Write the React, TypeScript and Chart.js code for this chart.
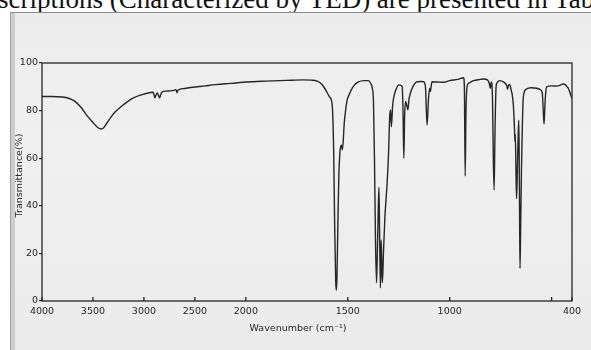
import React, { useEffect, useRef } from "react";
import { Chart, registerables } from "chart.js";

Chart.register(...registerables);

// ---- data (wavenumber in cm-1, transmittance in %) ----
const WAVENUMBERS = [
  4000, 3900, 3800, 3740, 3680, 3620, 3560, 3500, 3450, 3420, 3395, 3360, 3320, 3281, 3220, 3160, 3103, 3040, 2980, 2936,
  2910, 2900, 2893, 2882, 2870, 2858, 2846, 2835, 2820, 2780, 2740, 2700, 2685, 2676, 2668, 2650, 2600, 2500, 2400, 2300,
  2200, 2100, 2000, 1900, 1800, 1720, 1680, 1650, 1630, 1615, 1600, 1590, 1580, 1574, 1569, 1564, 1559, 1556, 1553, 1549,
  1544, 1539, 1535, 1531, 1527, 1523, 1517, 1510, 1503, 1494, 1484, 1470, 1450, 1420, 1398, 1388, 1380, 1374, 1369, 1364,
  1359, 1355, 1350, 1347, 1344, 1340, 1338, 1336, 1333, 1330, 1325, 1318, 1312, 1307, 1300, 1294, 1290, 1286, 1280, 1274,
  1262, 1250, 1240, 1233, 1229, 1225, 1221, 1216, 1210, 1205, 1200, 1193, 1180, 1160, 1140, 1128, 1119, 1111, 1104, 1098,
  1095, 1087, 1060, 1030, 1000, 960, 932, 928, 924, 920, 914, 907, 883, 850, 834, 815, 806, 801, 796, 790,
  786, 782, 778, 773, 769, 752, 735, 728, 720, 716, 712, 706, 698, 692, 688, 685, 682, 680, 678, 675,
  672, 668, 664, 661, 659, 657, 655, 652, 648, 644, 640, 635, 625, 600, 573, 555, 546, 541, 537, 533,
  528, 524, 500, 475, 455, 442, 432, 424, 418, 410, 404, 400,
];
const TRANSMITTANCE = [
  85.9, 85.9, 85.7, 85.2, 84.0, 81.5, 78.0, 75.0, 72.8, 72.3, 72.8, 75.0, 77.5, 79.5, 81.8, 83.8, 85.3, 86.4, 87.2, 87.6,
  87.7, 86.5, 85.3, 86.5, 87.4, 86.5, 85.3, 86.8, 87.9, 88.2, 88.3, 88.6, 88.8, 87.5, 88.4, 88.9, 89.3, 89.9, 90.4, 90.9,
  91.3, 91.6, 92.0, 92.4, 92.7, 92.9, 92.8, 92.4, 91.3, 89.6, 87.4, 85.8, 84.3, 79.0, 62.0, 30.0, 8.0, 4.5, 10.0, 30.0,
  52.0, 62.0, 64.8, 65.5, 63.5, 66.5, 75.0, 80.5, 84.5, 86.5, 88.5, 90.5, 92.0, 92.6, 92.6, 91.5, 89.5, 84.0, 60.0, 25.0,
  7.7, 20.0, 40.0, 47.8, 30.0, 5.5, 14.0, 25.6, 15.0, 7.7, 20.0, 35.0, 43.0, 49.4, 62.0, 78.0, 80.3, 73.2, 82.0, 85.8,
  89.2, 90.8, 90.6, 90.0, 80.0, 60.0, 78.0, 83.8, 82.0, 80.3, 84.5, 87.3, 90.2, 92.1, 92.2, 92.1, 90.0, 73.9, 85.0, 89.4,
  88.0, 92.1, 92.0, 91.9, 92.6, 93.1, 93.8, 90.0, 52.5, 80.0, 90.5, 91.5, 92.6, 93.1, 93.3, 92.9, 91.5, 89.4, 92.0, 85.0,
  60.0, 46.6, 70.0, 89.0, 91.5, 92.6, 92.0, 91.5, 90.5, 89.0, 90.5, 91.0, 88.5, 86.0, 82.5, 78.0, 72.0, 67.0, 70.0, 55.0,
  43.0, 55.0, 70.0, 76.0, 60.0, 35.0, 13.7, 30.0, 55.0, 72.0, 84.0, 87.5, 89.0, 89.6, 89.4, 88.8, 87.5, 80.0, 74.4, 82.0,
  88.5, 90.0, 90.4, 90.3, 90.8, 91.2, 90.8, 90.0, 89.4, 87.5, 86.0, 85.2,
];

const X_TICKS = [4000, 3500, 3000, 2500, 2000, 1500, 1000, 500, 400];
const X_TICK_LABELS = ["4000", "3500", "3000", "2500", "2000", "1500", "1000", "", "400"];
const Y_TICKS = [0, 20, 40, 60, 80, 100];
const X_TITLE = "Wavenumber (cm\u207B\u00B9)";
const Y_TITLE = "Transmittance(%)";
const HEADER_TEXT = "scriptions (Characterized by TED) are presented in Table";

// spectrometer abscissa: scale doubles below 2000 cm-1
const toU = (w: number) => (w >= 2000 ? (4000 - w) / 2 : 1000 + (2000 - w));

const INK = "#262626";
const LABEL_FONT = { family: '"DejaVu Sans", sans-serif', size: 9.5 };

const framePlugin = {
  id: "irFrame",
  afterDraw(chart: any) {
    const { ctx, chartArea: a, scales } = chart;
    ctx.save();
    ctx.strokeStyle = INK;
    ctx.lineWidth = 1.3;
    ctx.strokeRect(a.left, a.top, a.right - a.left, a.bottom - a.top);
    ctx.beginPath();
    X_TICKS.forEach((w) => {
      const px = scales.x.getPixelForValue(toU(w));
      ctx.moveTo(px, a.bottom);
      ctx.lineTo(px, a.bottom - 4);
    });
    ctx.stroke();
    ctx.fillStyle = INK;
    ctx.font = '9.5px "DejaVu Sans", sans-serif';
    ctx.textAlign = "center";
    ctx.textBaseline = "middle";
    ctx.fillText(X_TITLE, (a.left + a.right) / 2 - 9, a.bottom + 28);
    ctx.translate(20, (a.top + a.bottom) / 2 - 6.5);
    ctx.rotate(-Math.PI / 2);
    ctx.fillText(Y_TITLE, 0, 0);
    ctx.restore();
  },
};

export default function App() {
  const canvasRef = useRef<HTMLCanvasElement | null>(null);

  useEffect(() => {
    if (!canvasRef.current) return;
    const points = WAVENUMBERS.map((w, i) => ({ x: toU(w), y: TRANSMITTANCE[i] }));
    const chart = new Chart(canvasRef.current, {
      type: "line",
      data: {
        datasets: [
          {
            data: points,
            borderColor: INK,
            borderWidth: 1.4,
            pointRadius: 0,
            fill: false,
            cubicInterpolationMode: "monotone",
          },
        ],
      },
      options: {
        responsive: false,
        animation: false,
        events: [],
        layout: { padding: { left: 0, top: 63, right: 19, bottom: 0 } },
        plugins: { legend: { display: false }, tooltip: { enabled: false } },
        scales: {
          x: {
            type: "linear",
            min: 0,
            max: toU(400),
            afterBuildTicks: (s: any) => {
              s.ticks = X_TICKS.map((w) => ({ value: toU(w) }));
            },
            afterFit: (s: any) => {
              s.height = 49;
              s.paddingLeft = 0;
              s.paddingRight = 0;
            },
            ticks: {
              autoSkip: false,
              maxRotation: 0,
              padding: 5,
              color: INK,
              font: LABEL_FONT,
              callback: (_v: any, i: number) => X_TICK_LABELS[i],
            },
            grid: { display: false, drawTicks: false },
            border: { display: false },
          },
          y: {
            min: 0,
            max: 100,
            afterBuildTicks: (s: any) => {
              s.ticks = Y_TICKS.map((v) => ({ value: v }));
            },
            afterFit: (s: any) => {
              s.width = 42;
              s.paddingTop = 0;
              s.paddingBottom = 0;
            },
            ticks: {
              padding: 1,
              color: INK,
              font: LABEL_FONT,
              callback: (v: any) => String(v),
            },
            grid: { drawOnChartArea: false, tickLength: 3, color: INK, lineWidth: 1.2 },
            border: { display: false },
          },
        },
      },
      plugins: [framePlugin],
    } as any);
    return () => chart.destroy();
  }, []);

  return (
    <div style={{ position: "fixed", left: 0, top: 0, width: 591, height: 350, overflow: "hidden", background: "#ffffff" }}>
      <div
        style={{
          position: "absolute",
          left: -2,
          top: -15,
          whiteSpace: "nowrap",
          fontFamily: '"Liberation Serif", "Times New Roman", serif',
          fontSize: 27,
          lineHeight: "28px",
          color: "#111",
        }}
      >
        {HEADER_TEXT}
      </div>
      <div
        style={{
          position: "absolute",
          left: 10,
          top: 12,
          right: 0,
          bottom: 0,
          background: "linear-gradient(180deg, #ececec 0%, #f0f0f0 40%, #ebebeb 100%)",
          borderTop: "1px solid #8a8a8a",
          borderLeft: "1px solid #a0a0a0",
          boxShadow: "inset 4px 0 0 #cdcdcd",
        }}
      />
      <canvas ref={canvasRef} width={591} height={350} style={{ position: "absolute", left: 0, top: 0 }} />
    </div>
  );
}
